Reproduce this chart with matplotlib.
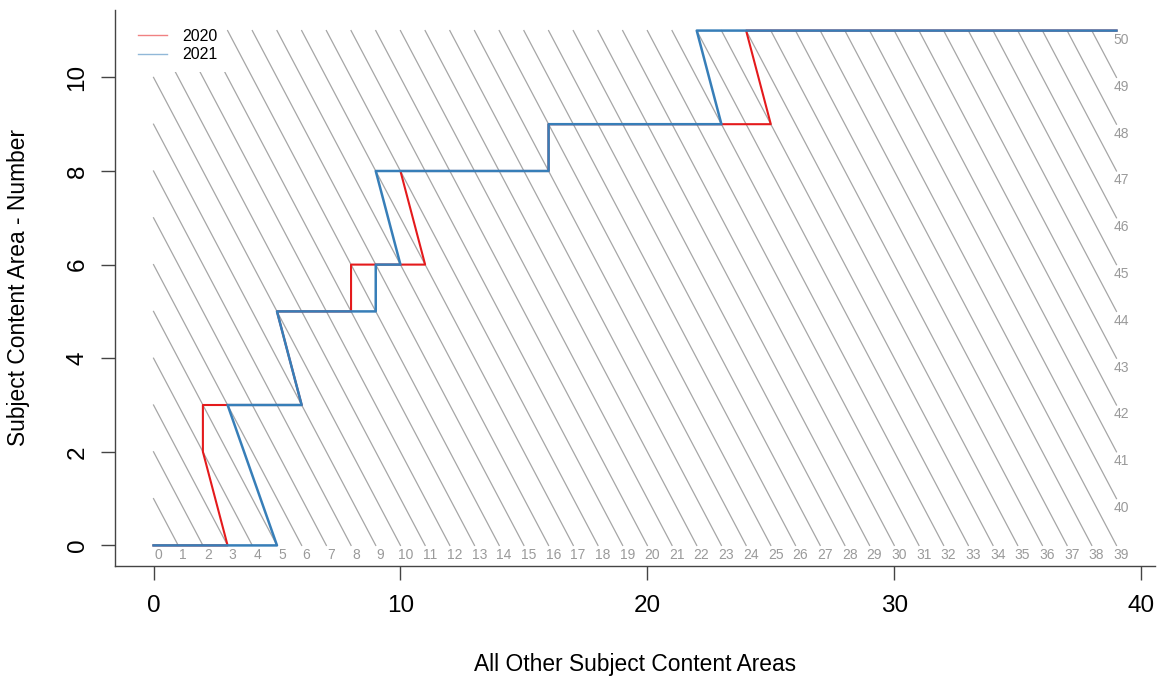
import matplotlib.pyplot as plt
from matplotlib.patches import Rectangle
from matplotlib.lines import Line2D

plt.rcParams['font.family'] = ['Liberation Sans', 'DejaVu Sans']

# path of each year: x = all other subject areas, y = this subject area
x_2020 = [0, 3, 2, 2, 6, 5, 8, 8, 11, 10, 16, 16, 25, 24, 39]
y_2020 = [0, 0, 2, 3, 3, 5, 5, 6, 6, 8, 8, 9, 9, 11, 11]
x_2021 = [0, 5, 3, 6, 5, 9, 9, 10, 9, 16, 16, 23, 22, 39]
y_2021 = [0, 0, 3, 3, 5, 5, 6, 6, 8, 8, 9, 9, 11, 11]

x_max = 39
y_max = 11
totals = list(range(0, 51))  # diagonal lines x + y = total

x_ticks = [0, 10, 20, 30, 40]
y_ticks = [0, 2, 4, 6, 8, 10]

fig = plt.figure(figsize=(11.62, 6.77), dpi=100)
ax = fig.add_axes([115 / 1162, 111 / 677, 1040 / 1162, 556 / 677])

# diagonal reference lines with their totals
for k in totals[1:]:
    x0 = max(0, k - y_max)
    y0 = k - x0
    y1 = max(0, k - x_max)
    x1 = k - y1
    ax.plot([x0, x1], [y0, y1], color='#a6a6a6', lw=0.9, zorder=1)
for k in totals:
    y1 = max(0, k - x_max)
    x1 = k - y1
    ax.annotate(str(k), (x1, y1), xytext=(3.5, -6.8), textcoords='offset points',
                ha='center', va='center', fontsize=10, color='#9a9a9a')

ax.plot(x_2020, y_2020, color='#E41A1C', lw=1.5, zorder=3)
ax.plot(x_2021, y_2021, color='#377EB8', lw=1.8, zorder=4)

ax.set_xlim(-1.56, 40.56)
ax.set_ylim(-0.44, 11.44)

# white box behind the legend, as in the original
ax.add_patch(Rectangle((-1.56, 10.12), 1.56 + 2.93, 1.4, facecolor='white',
                       edgecolor='none', zorder=2))
handles = [Line2D([], [], color='#E41A1C', lw=1, alpha=0.55),
           Line2D([], [], color='#377EB8', lw=1, alpha=0.55)]
ax.legend(handles, ['2020', '2021'], loc='upper left', bbox_to_anchor=(0.022, 0.966),
          frameon=False, fontsize=11.5, handlelength=1.85, handletextpad=0.9,
          labelspacing=0.2, borderpad=0, borderaxespad=0)

ax.set_xticks(x_ticks)
ax.set_yticks(y_ticks)
ax.set_yticklabels([str(v) for v in y_ticks], rotation=90, va='center')
for s in ['top', 'right']:
    ax.spines[s].set_visible(False)
for s in ['left', 'bottom']:
    ax.spines[s].set_color('#444444')
    ax.spines[s].set_linewidth(1)
ax.tick_params(length=10, width=1, color='#444444', labelsize=17.5, pad=11)
ax.tick_params(axis='y', pad=9)
ax.set_xlabel('All Other Subject Content Areas', fontsize=16.4, labelpad=26)
ax.set_ylabel('Subject Content Area - Number', fontsize=16.4, labelpad=26)

fig.savefig('out.png', dpi=100)
